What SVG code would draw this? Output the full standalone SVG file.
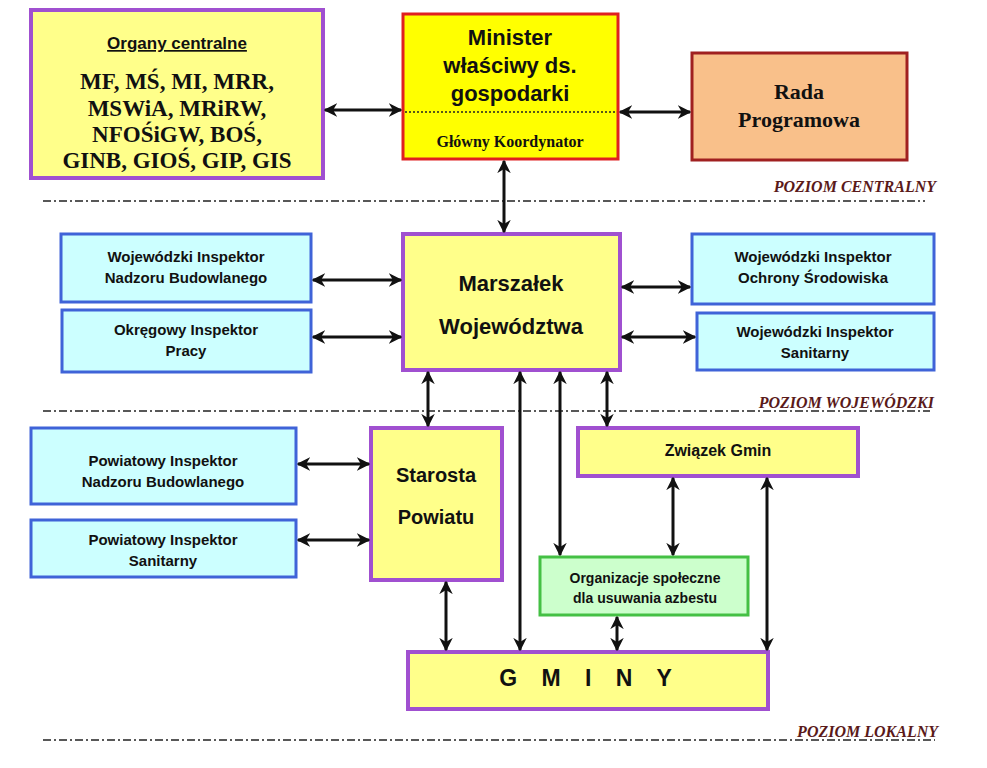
<svg xmlns="http://www.w3.org/2000/svg" width="987" height="768" viewBox="0 0 987 768">
<style>
.sans{font-family:"Liberation Sans",Arial,sans-serif;font-weight:bold;fill:#111}
.serif{font-family:"Liberation Serif","Times New Roman",serif;font-weight:bold;fill:#111}
.lvl{font-family:"Liberation Serif","Times New Roman",serif;font-weight:bold;font-style:italic;fill:#5a1a1a;font-size:16px;text-anchor:end}
.dash{stroke:#222;stroke-width:1.5;stroke-dasharray:8,3,2,3;fill:none}
.pur{fill:#ffff8a;stroke:#a050d0;stroke-width:4}
.blue{fill:#ccffff;stroke:#3f63d8;stroke-width:3}
.conn line{stroke:#111;stroke-width:3;marker-start:url(#ah);marker-end:url(#ah)}
text{text-anchor:middle}
</style>
<defs>
<marker id="ah" viewBox="0 0 10 10" refX="9" refY="5" markerWidth="4.5" markerHeight="4.5" orient="auto-start-reverse" markerUnits="strokeWidth">
<path d="M0,0 L10,5 L0,10 L3,5 Z" fill="#111"/>
</marker>
</defs>
<rect width="987" height="768" fill="#fff"/>
<line class="dash" x1="43" y1="201" x2="925" y2="201"/>
<line class="dash" x1="43" y1="411" x2="930" y2="411"/>
<line class="dash" x1="43" y1="740" x2="935" y2="740"/>
<text class="lvl" x="936" y="192">POZIOM  CENTRALNY</text>
<text class="lvl" x="934" y="408">POZIOM  WOJEWÓDZKI</text>
<text class="lvl" x="938" y="737">POZIOM  LOKALNY</text>
<g id="organy"><rect class="pur" x="31" y="10" width="292" height="168"/>
<text class="sans" x="177" y="49" font-size="17" text-decoration="underline">Organy centralne</text>
<text class="serif" font-size="23"><tspan x="177" y="89">MF, MŚ, MI, MRR,</tspan><tspan x="177" y="116">MSWiA, MRiRW,</tspan><tspan x="177" y="142">NFOŚiGW, BOŚ,</tspan><tspan x="177" y="168">GINB, GIOŚ, GIP, GIS</tspan></text></g>
<g id="minister"><rect x="403" y="14" width="215" height="145" fill="#ffff00" stroke="#e02020" stroke-width="3"/>
<line x1="405" y1="112" x2="616" y2="112" stroke="#222" stroke-width="1.5" stroke-dasharray="2,2"/>
<text class="sans" font-size="22"><tspan x="510" y="45">Minister</tspan><tspan x="510" y="73">właściwy ds.</tspan><tspan x="510" y="101">gospodarki</tspan></text>
<text class="serif" x="510" y="147" font-size="16">Główny Koordynator</text></g>
<g id="rada"><rect x="692" y="53" width="215" height="107" fill="#f9c08a" stroke="#a02020" stroke-width="3"/>
<text class="serif" font-size="22"><tspan x="799" y="99">Rada</tspan><tspan x="799" y="127">Programowa</tspan></text></g>
<g id="winb"><rect class="blue" x="61" y="234" width="250" height="68"/>
<text class="sans" font-size="15"><tspan x="186" y="262">Wojewódzki Inspektor</tspan><tspan x="186" y="283">Nadzoru Budowlanego</tspan></text></g>
<g id="oip"><rect class="blue" x="62" y="310" width="249" height="62"/>
<text class="sans" font-size="15"><tspan x="186" y="335">Okręgowy Inspektor</tspan><tspan x="186" y="356">Pracy</tspan></text></g>
<g id="marszalek"><rect class="pur" x="403" y="234" width="217" height="136"/>
<text class="sans" font-size="22"><tspan x="511" y="291">Marszałek</tspan><tspan x="511" y="334">Województwa</tspan></text></g>
<g id="wios"><rect class="blue" x="692" y="234" width="242" height="70"/>
<text class="sans" font-size="15"><tspan x="813" y="262">Wojewódzki Inspektor</tspan><tspan x="813" y="283">Ochrony Środowiska</tspan></text></g>
<g id="wis"><rect class="blue" x="697" y="313" width="237" height="57"/>
<text class="sans" font-size="15"><tspan x="815" y="337">Wojewódzki Inspektor</tspan><tspan x="815" y="358">Sanitarny</tspan></text></g>
<g id="pinb"><rect class="blue" x="31" y="428" width="265" height="76"/>
<text class="sans" font-size="15"><tspan x="163" y="466">Powiatowy Inspektor</tspan><tspan x="163" y="487">Nadzoru Budowlanego</tspan></text></g>
<g id="pis"><rect class="blue" x="31" y="520" width="265" height="57"/>
<text class="sans" font-size="15"><tspan x="163" y="545">Powiatowy Inspektor</tspan><tspan x="163" y="566">Sanitarny</tspan></text></g>
<g id="starosta"><rect class="pur" x="371" y="428" width="131" height="152"/>
<text class="sans" font-size="20"><tspan x="436" y="482">Starosta</tspan><tspan x="436" y="524">Powiatu</tspan></text></g>
<g id="zwiazek"><rect class="pur" x="578" y="428" width="280" height="48"/>
<text class="sans" x="718" y="456" font-size="16">Związek Gmin</text></g>
<g id="organizacje"><rect x="540" y="557" width="208" height="58" fill="#ccffcc" stroke="#44c044" stroke-width="3"/>
<text class="sans" font-size="14"><tspan x="645" y="583">Organizacje społeczne</tspan><tspan x="645" y="603">dla usuwania azbestu</tspan></text></g>
<g id="gminy"><rect class="pur" x="408" y="652" width="360" height="57"/>
<text class="sans" x="590" y="686" font-size="23" letter-spacing="9">G M I N Y</text></g>
<g class="conn">
<line x1="325" y1="110" x2="401" y2="110"/>
<line x1="620" y1="112" x2="690" y2="112"/>
<line x1="504" y1="161" x2="504" y2="232"/>
<line x1="313" y1="280" x2="401" y2="280"/>
<line x1="313" y1="337" x2="401" y2="337"/>
<line x1="622" y1="287" x2="690" y2="287"/>
<line x1="622" y1="337" x2="695" y2="337"/>
<line x1="428" y1="372" x2="428" y2="426"/>
<line x1="520" y1="372" x2="520" y2="650"/>
<line x1="560" y1="372" x2="560" y2="555"/>
<line x1="607" y1="372" x2="607" y2="426"/>
<line x1="298" y1="464" x2="369" y2="464"/>
<line x1="298" y1="540" x2="369" y2="540"/>
<line x1="446" y1="582" x2="446" y2="650"/>
<line x1="673" y1="478" x2="673" y2="555"/>
<line x1="767" y1="478" x2="767" y2="650"/>
<line x1="617" y1="617" x2="617" y2="650"/>
</g>
</svg>
